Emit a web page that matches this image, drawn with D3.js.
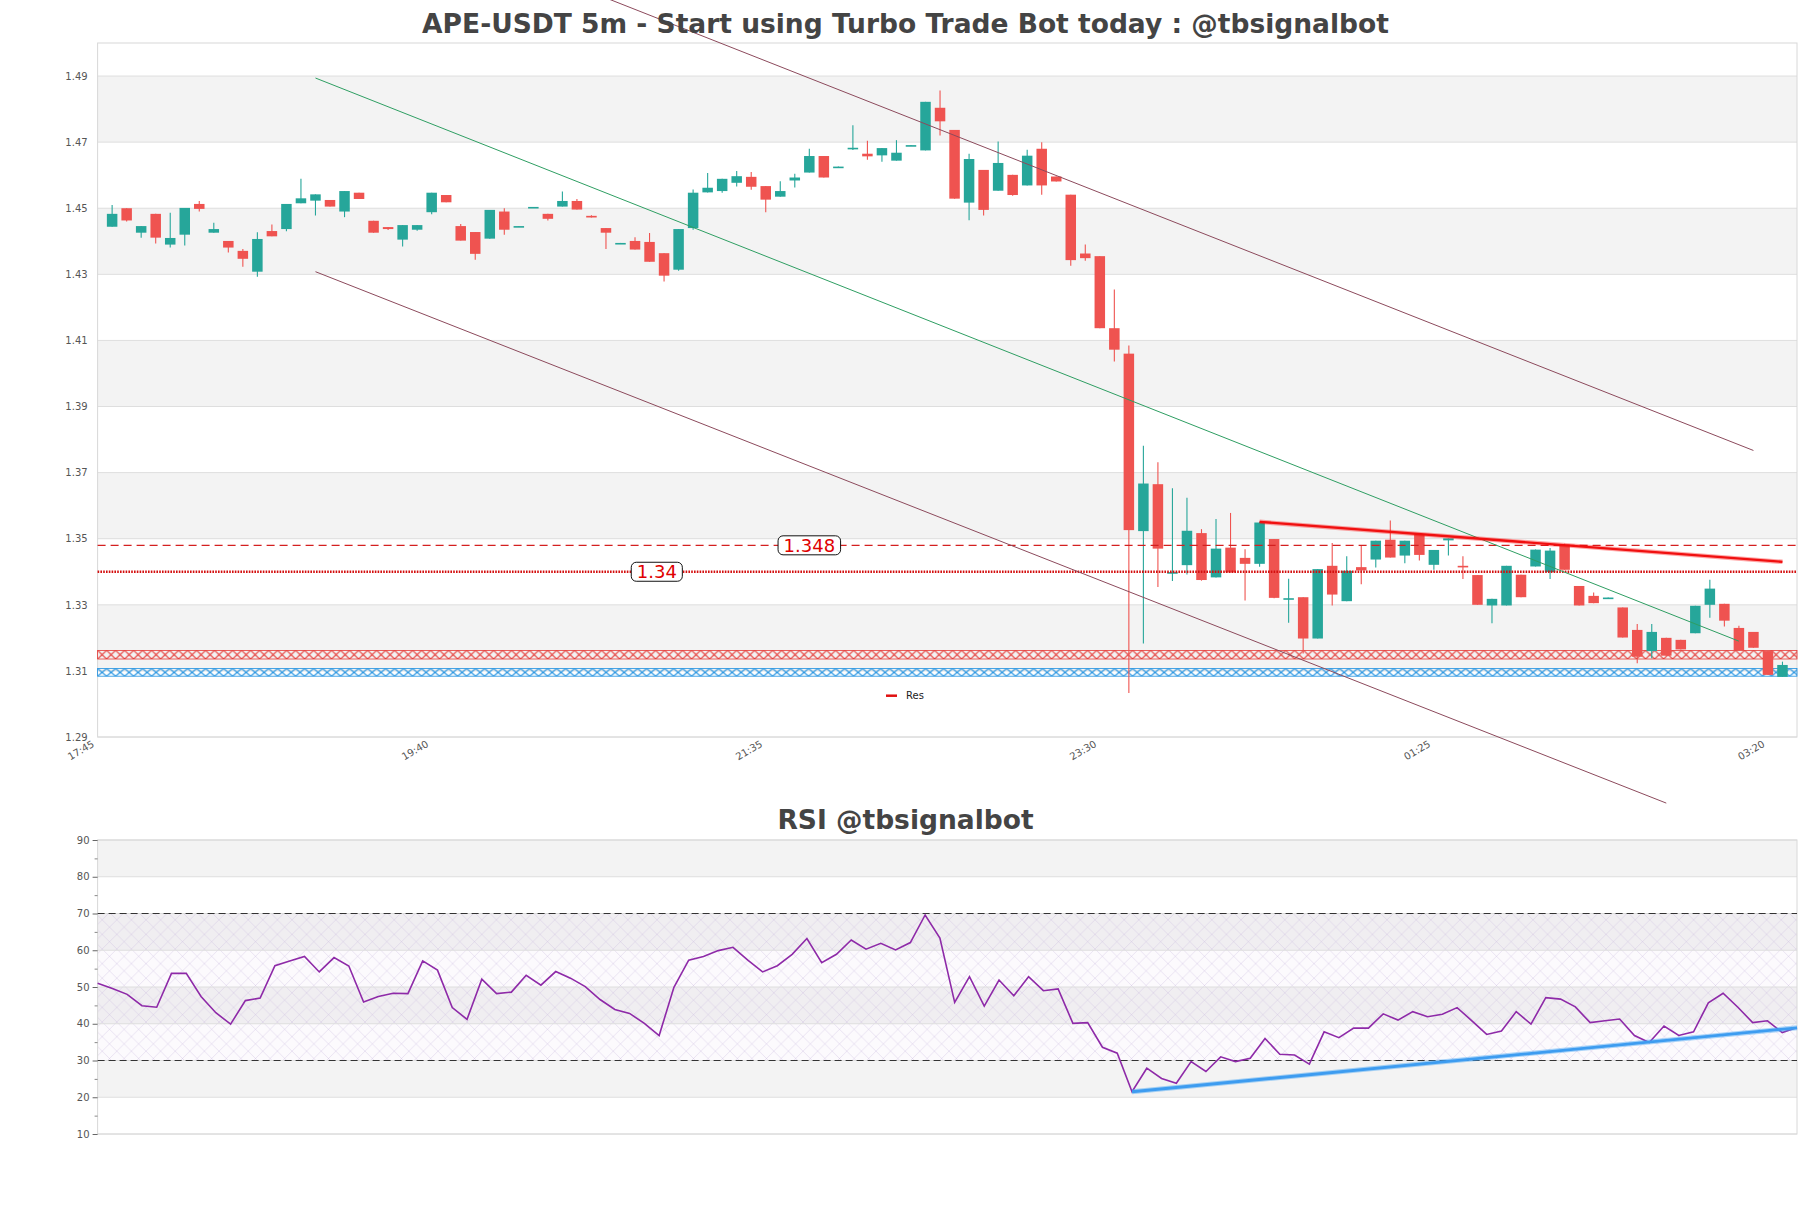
<!DOCTYPE html>
<html><head><meta charset="utf-8">
<script src="https://cdn.jsdelivr.net/npm/d3@7"></script>
<style>
html,body{margin:0;padding:0;background:#fff;}
svg{display:block;font-family:"DejaVu Sans",sans-serif;}
</style></head><body>
<svg id="chart" width="1811" height="1208"></svg>
<script>
// ---------------- DATA ----------------
const times = [
"17:50","17:55",
"18:00","18:05","18:10","18:15","18:20","18:25","18:30","18:35","18:40","18:45","18:50","18:55",
"19:00","19:05","19:10","19:15","19:20","19:25","19:30","19:35","19:40","19:45","19:50","19:55",
"20:00","20:05","20:10","20:15","20:20","20:25","20:30","20:35","20:40","20:45","20:50","20:55",
"21:00","21:05","21:10","21:15","21:20","21:25","21:30","21:35","21:40","21:45","21:50","21:55",
"22:00","22:05","22:10","22:15","22:20","22:25","22:30","22:35","22:40","22:45","22:50","22:55",
"23:00","23:05","23:10","23:15","23:20","23:25","23:30","23:35","23:40","23:45","23:50","23:55",
"00:00","00:05","00:10","00:15","00:20","00:25","00:30","00:35","00:40","00:45","00:50","00:55",
"01:00","01:05","01:10","01:15","01:20","01:25","01:30","01:35","01:40","01:45","01:50","01:55",
"02:00","02:05","02:10","02:15","02:20","02:25","02:30","02:35","02:40","02:45","02:50","02:55",
"03:00","03:05","03:10","03:15","03:20","03:25"];

const open = [
1.4444,1.4500,1.4426,1.4483,1.4390,1.4420,1.4513,1.4426,1.4401,1.4371,
1.4308,1.4431,1.4437,1.4515,1.4523,1.4525,1.4490,1.4547,1.4462,1.4443,
1.4405,1.4435,1.4488,1.4540,1.4446,1.4428,1.4408,1.4490,1.4444,1.4502,
1.4483,1.4505,1.4522,1.4477,1.4440,1.4393,1.4401,1.4398,1.4364,1.4314,
1.4440,1.4548,1.4552,1.4577,1.4595,1.4567,1.4535,1.4584,1.4608,1.4658,
1.4624,1.4680,1.4665,1.4660,1.4644,1.4688,1.4675,1.4804,1.4737,1.4517,
1.4616,1.4553,1.4601,1.4569,1.4680,1.4596,1.4541,1.4363,1.4355,1.4137,
1.4060,1.3523,1.3665,1.3394,1.3420,1.3517,1.3383,1.3473,1.3442,1.3424,
1.3499,1.3316,1.3323,1.3198,1.3418,1.3311,1.3414,1.3437,1.3497,1.3449,
1.3512,1.3421,1.3495,1.3418,1.3390,1.3298,1.3298,1.3391,1.3416,1.3399,
1.3482,1.3357,1.3327,1.3320,1.3292,1.3224,1.3160,1.3200,1.3194,1.3214,
1.3300,1.3303,1.3230,1.3218,1.3160,1.3082];

const high = [
1.4510,1.4500,1.4446,1.4483,1.4486,1.4501,1.4522,1.4456,1.4401,1.4377,
1.4427,1.4451,1.4513,1.4589,1.4542,1.4525,1.4552,1.4547,1.4462,1.4443,
1.4449,1.4449,1.4547,1.4540,1.4452,1.4428,1.4495,1.4500,1.4446,1.4504,
1.4483,1.4551,1.4528,1.4479,1.4440,1.4395,1.4412,1.4425,1.4364,1.4437,
1.4557,1.4607,1.4589,1.4613,1.4610,1.4567,1.4582,1.4604,1.4680,1.4658,
1.4626,1.4751,1.4704,1.4682,1.4706,1.4691,1.4822,1.4856,1.4737,1.4665,
1.4616,1.4702,1.4601,1.4677,1.4700,1.4596,1.4541,1.4390,1.4355,1.4254,
1.4085,1.3781,1.3731,1.3653,1.3624,1.3529,1.3560,1.3578,1.3468,1.3551,
1.3499,1.3379,1.3323,1.3408,1.3487,1.3447,1.3480,1.3494,1.3555,1.3494,
1.3512,1.3466,1.3501,1.3447,1.3390,1.3318,1.3418,1.3391,1.3467,1.3472,
1.3485,1.3357,1.3337,1.3322,1.3292,1.3242,1.3242,1.3200,1.3194,1.3297,
1.3376,1.3303,1.3237,1.3218,1.3160,1.3128];

const low = [
1.4444,1.4460,1.4411,1.4393,1.4381,1.4387,1.4490,1.4426,1.4366,1.4323,
1.4293,1.4415,1.4430,1.4515,1.4478,1.4505,1.4473,1.4528,1.4426,1.4434,
1.4384,1.4432,1.4482,1.4518,1.4402,1.4344,1.4408,1.4420,1.4444,1.4502,
1.4463,1.4505,1.4496,1.4472,1.4377,1.4393,1.4375,1.4338,1.4278,1.4311,
1.4435,1.4548,1.4547,1.4566,1.4556,1.4488,1.4535,1.4563,1.4608,1.4593,
1.4624,1.4676,1.4647,1.4641,1.4644,1.4688,1.4675,1.4720,1.4529,1.4464,
1.4478,1.4553,1.4538,1.4569,1.4541,1.4581,1.4326,1.4341,1.4137,1.4036,
1.3033,1.3183,1.3354,1.3372,1.3392,1.3373,1.3383,1.3398,1.3313,1.3415,
1.3320,1.3246,1.3153,1.3198,1.3298,1.3311,1.3362,1.3413,1.3443,1.3426,
1.3434,1.3406,1.3449,1.3378,1.3300,1.3244,1.3298,1.3323,1.3416,1.3378,
1.3406,1.3298,1.3305,1.3320,1.3201,1.3123,1.3138,1.3146,1.3165,1.3214,
1.3261,1.3234,1.3163,1.3170,1.3088,1.3082];

const close = [
1.4483,1.4463,1.4446,1.4411,1.4410,1.4501,1.4498,1.4437,1.4381,1.4347,
1.4407,1.4415,1.4513,1.4530,1.4542,1.4505,1.4552,1.4528,1.4426,1.4437,
1.4449,1.4449,1.4547,1.4518,1.4402,1.4362,1.4495,1.4435,1.4446,1.4504,
1.4468,1.4522,1.4496,1.4472,1.4426,1.4395,1.4375,1.4338,1.4296,1.4437,
1.4547,1.4562,1.4589,1.4597,1.4565,1.4526,1.4552,1.4593,1.4658,1.4593,
1.4626,1.4683,1.4657,1.4682,1.4668,1.4691,1.4822,1.4763,1.4529,1.4649,
1.4495,1.4637,1.4540,1.4659,1.4569,1.4581,1.4343,1.4349,1.4137,1.4072,
1.3526,1.3667,1.3470,1.3399,1.3524,1.3375,1.3470,1.3398,1.3424,1.3549,
1.3321,1.3320,1.3198,1.3408,1.3331,1.3403,1.3404,1.3494,1.3443,1.3494,
1.3451,1.3466,1.3501,1.3415,1.3300,1.3318,1.3418,1.3323,1.3467,1.3464,
1.3406,1.3298,1.3305,1.3322,1.3201,1.3143,1.3218,1.3146,1.3165,1.3297,
1.3349,1.3252,1.3163,1.3170,1.3088,1.3118];

const rsi = [
51.0,49.6,48.0,44.9,44.5,53.7,53.7,47.4,43.0,39.9,
46.3,47.0,55.8,57.1,58.3,54.1,58.0,55.7,45.9,47.4,
48.3,48.2,57.1,54.6,44.4,41.2,52.1,48.2,48.6,53.2,
50.5,54.2,52.4,50.1,46.6,43.9,42.8,40.1,36.8,49.9,
57.3,58.3,59.9,60.8,57.3,54.1,55.8,58.9,63.2,56.6,
58.9,62.8,60.3,61.9,60.1,62.1,69.6,63.3,45.8,52.8,
44.8,51.9,47.6,52.8,49.0,49.5,40.1,40.3,33.6,32.0,
21.5,27.9,25.1,23.8,29.7,27.0,31.0,29.7,30.6,36.0,
31.7,31.5,29.0,37.8,36.2,38.8,38.8,42.7,41.0,43.3,
41.9,42.6,44.4,40.8,37.1,38.0,43.3,39.9,47.1,46.7,
44.6,40.3,40.8,41.3,36.8,34.9,39.4,36.8,37.8,45.7,
48.3,44.5,40.3,40.8,37.6,39.0];

const priceTicks = [1.29,1.31,1.33,1.35,1.37,1.39,1.41,1.43,1.45,1.47,1.49];
const priceDomain = [1.29, 1.50];
const timeTicks = ["17:45","19:40","21:35","23:30","01:25","03:20"];
const timeDomain = ["17:45","03:30"];
const rsiTicks = [10,20,30,40,50,60,70,80,90];
const rsiMinorTicks = [15,25,35,45,55,65,75,85];
const rsiBounds = [30,70];

const resistanceLevel = 1.348;
const supportLevel = 1.34;
const zoneRed = [1.3136, 1.3162];
const zoneBlue = [1.3084, 1.3107];

// trend lines: [candle index, value]
const trendGreen   = [[14,1.4894],[112,1.3190]];
const channelUpper = [[14,1.5483],[113,1.3767]];
const channelLower = [[14,1.4308],[107,1.2700]];
const resTrend     = [[79,1.3551],[115,1.3430]];
const rsiTrend     = [[70,21.5],[115,38.9]];

const titleMain = "APE-USDT 5m - Start using Turbo Trade Bot today : @tbsignalbot";
const titleRsi = "RSI @tbsignalbot";
const legendLabel = "Res";

// ---------------- DRAW ----------------
const svg = d3.select("#chart");
const M = {left:97.6, right:1797, top:43, bottom:737};
const R = {top:840, bottom:1134};
const UP = "#26a69a", DOWN = "#ef5350";

function toDate(s){const [h,m]=s.split(":").map(Number);return new Date(Date.UTC(2024,0,h<12?2:1,h,m));}
const dates = times.map(toDate);

const x = d3.scaleUtc().domain(timeDomain.map(toDate)).range([M.left, M.right]);
const y = d3.scaleLinear().domain(priceDomain).range([M.bottom, M.top]);
const xr = d3.scaleUtc().domain([dates[0], dates[dates.length-1]]).range([M.left, M.right]);
const yr = d3.scaleLinear().domain([rsiTicks[0], rsiTicks[rsiTicks.length-1]]).range([R.bottom, R.top]);

const defs = svg.append("defs");
function hatch(id, color, h, yTop){
  const p = defs.append("pattern").attr("id",id).attr("patternUnits","userSpaceOnUse")
    .attr("width",9).attr("height",h).attr("x",M.left).attr("y",yTop);
  p.append("path").attr("d",`M0,0L9,${h}M9,0L0,${h}`).attr("stroke",color).attr("stroke-width",1.2).attr("fill","none");
}
const pr = defs.append("pattern").attr("id","rsiHatch").attr("patternUnits","userSpaceOnUse")
  .attr("width",14.6).attr("height",14.6);
pr.append("path").attr("d","M0,0L14.6,14.6M14.6,0L0,14.6").attr("stroke","#c8b6de").attr("stroke-width",0.7).attr("fill","none").attr("opacity",0.5);

// ---- main panel background ----
const gMain = svg.append("g");
for(let i=1;i<priceTicks.length-1;i+=2){
  gMain.append("rect").attr("x",M.left).attr("width",M.right-M.left)
    .attr("y",y(priceTicks[i+1])).attr("height",y(priceTicks[i])-y(priceTicks[i+1]))
    .attr("fill","#f3f3f3");
}
gMain.selectAll("line.grid").data(priceTicks).join("line").attr("class","grid")
  .attr("x1",M.left).attr("x2",M.right).attr("y1",d=>y(d)).attr("y2",d=>y(d))
  .attr("stroke","#dedede").attr("stroke-width",1);
gMain.append("rect").attr("x",M.left).attr("y",M.top).attr("width",M.right-M.left).attr("height",M.bottom-M.top)
  .attr("fill","none").attr("stroke","#d8d8d8");

// axes
const yAxis = d3.axisLeft(y).tickValues(priceTicks).tickFormat(d3.format(".2f")).tickSize(0).tickPadding(10);
const gy = svg.append("g").attr("transform",`translate(${M.left},0)`).call(yAxis);
gy.select(".domain").remove();
gy.selectAll("text").attr("font-size",10).attr("fill","#555").attr("font-family","DejaVu Sans");

const xAxis = d3.axisBottom(x).tickValues(timeTicks.map(toDate)).tickFormat(d3.utcFormat("%H:%M")).tickSize(0);
const gx = svg.append("g").attr("transform",`translate(0,${M.bottom})`).call(xAxis);
gx.select(".domain").remove();
gx.selectAll("text").attr("font-size",10).attr("fill","#555").attr("font-family","DejaVu Sans")
  .attr("text-anchor","end").attr("dy",null).attr("y",null)
  .attr("transform","translate(-3,9) rotate(-30)");

// zones
function zone(rng, color, id){
  const yt = y(rng[1]), yb = y(rng[0]);
  hatch(id, color, yb-yt, yt);
  gMain.append("rect").attr("x",M.left).attr("width",M.right-M.left).attr("y",yt).attr("height",yb-yt)
    .attr("fill",`url(#${id})`).attr("stroke",color).attr("stroke-width",0.8);
}
zone(zoneRed, "#e53935", "hRed");
zone(zoneBlue, "#1e90e0", "hBlue");

// candles
const bw = 10.5;
const gC = svg.append("g");
gC.selectAll("line.wick").data(dates).join("line").attr("class","wick")
  .attr("x1",d=>x(d)).attr("x2",d=>x(d))
  .attr("y1",(d,i)=>y(high[i])).attr("y2",(d,i)=>y(low[i]))
  .attr("stroke",(d,i)=>close[i]>=open[i]?UP:DOWN).attr("stroke-width",1.1);
gC.selectAll("rect.body").data(dates).join("rect").attr("class","body")
  .attr("x",d=>x(d)-bw/2).attr("width",bw)
  .attr("y",(d,i)=>y(Math.max(open[i],close[i])))
  .attr("height",(d,i)=>Math.max(1.6, Math.abs(y(open[i])-y(close[i]))))
  .attr("fill",(d,i)=>close[i]>=open[i]?UP:DOWN);

// horizontal levels
svg.append("line").attr("x1",M.left).attr("x2",M.right).attr("y1",y(resistanceLevel)).attr("y2",y(resistanceLevel))
  .attr("stroke","#d42020").attr("stroke-width",1.3).attr("stroke-dasharray","8,5");
svg.append("line").attr("x1",M.left).attr("x2",M.right).attr("y1",y(supportLevel)).attr("y2",y(supportLevel))
  .attr("stroke","#d41010").attr("stroke-width",2.4).attr("stroke-dasharray","1.6,1.2");

// trend lines
const lineP = d3.line().x(d=>x(dates[d[0]])).y(d=>y(d[1]));
svg.append("path").attr("d",lineP(channelUpper)).attr("stroke","#8c4a5c").attr("stroke-width",1).attr("fill","none");
svg.append("path").attr("d",lineP(channelLower)).attr("stroke","#8c4a5c").attr("stroke-width",1).attr("fill","none");
svg.append("path").attr("d",lineP(trendGreen)).attr("stroke","#2e9e62").attr("stroke-width",1).attr("fill","none");
svg.append("path").attr("d",lineP(resTrend)).attr("stroke","rgba(255,0,0,0.35)").attr("stroke-width",4.5).attr("fill","none");
svg.append("path").attr("d",lineP(resTrend)).attr("stroke","#f01010").attr("stroke-width",2.4).attr("fill","none");

// level labels
function levelLabel(val, xc){
  const g = svg.append("g");
  const t = g.append("text").attr("x",xc).attr("y",y(val)).attr("dy","0.36em").attr("text-anchor","middle")
    .attr("font-size",18).attr("fill","#e00000").text(String(val));
  const w = t.node().getComputedTextLength()+11;
  g.insert("rect","text").attr("x",xc-w/2).attr("y",y(val)-9.5).attr("width",w).attr("height",19)
    .attr("rx",5).attr("fill","#fff").attr("stroke","#111").attr("stroke-width",1);
}
levelLabel(resistanceLevel, x(dates[48]));
levelLabel(supportLevel, (x(dates[37])+x(dates[38]))/2);

// legend
svg.append("line").attr("x1",886).attr("x2",897).attr("y1",695.7).attr("y2",695.7).attr("stroke","#e01010").attr("stroke-width",2.5);
svg.append("text").attr("x",906).attr("y",695.7).attr("dy","0.35em").attr("font-size",10).attr("fill","#222").text(legendLabel);

// ---- RSI panel ----
const gR = svg.append("g");
for(let i=1;i<rsiTicks.length-1;i+=2){
  gR.append("rect").attr("x",M.left).attr("width",M.right-M.left)
    .attr("y",yr(rsiTicks[i+1])).attr("height",yr(rsiTicks[i])-yr(rsiTicks[i+1])).attr("fill","#f3f3f3");
}
gR.append("rect").attr("x",M.left).attr("width",M.right-M.left)
  .attr("y",yr(rsiBounds[1])).attr("height",yr(rsiBounds[0])-yr(rsiBounds[1]))
  .attr("fill","rgba(150,80,190,0.03)");
gR.append("rect").attr("x",M.left).attr("width",M.right-M.left)
  .attr("y",yr(rsiBounds[1])).attr("height",yr(rsiBounds[0])-yr(rsiBounds[1]))
  .attr("fill","url(#rsiHatch)");
gR.selectAll("line.grid").data(rsiTicks).join("line").attr("class","grid")
  .attr("x1",M.left).attr("x2",M.right).attr("y1",d=>yr(d)).attr("y2",d=>yr(d))
  .attr("stroke","#dedede");
gR.append("rect").attr("x",M.left).attr("y",R.top).attr("width",M.right-M.left).attr("height",R.bottom-R.top)
  .attr("fill","none").attr("stroke","#d8d8d8");
rsiBounds.forEach(v=>{
  gR.append("line").attr("x1",M.left).attr("x2",M.right).attr("y1",yr(v)).attr("y2",yr(v))
    .attr("stroke","#333").attr("stroke-width",1.2).attr("stroke-dasharray","7,4");
});
const gyr = svg.append("g").attr("transform",`translate(${M.left},0)`)
  .call(d3.axisLeft(yr).tickValues(rsiTicks).tickSize(5).tickPadding(3));
gyr.select(".domain").remove();
gyr.selectAll("line").attr("stroke","#666");
gyr.selectAll("text").attr("font-size",10).attr("fill","#555").attr("font-family","DejaVu Sans");
const gym = svg.append("g").attr("transform",`translate(${M.left},0)`)
  .call(d3.axisLeft(yr).tickValues(rsiMinorTicks).tickSize(3).tickFormat(""));
gym.select(".domain").remove();
gym.selectAll("line").attr("stroke","#888");

svg.append("path").datum(rsi)
  .attr("d",d3.line().x((d,i)=>xr(dates[i])).y(d=>yr(d)))
  .attr("fill","none").attr("stroke","#8e2aa8").attr("stroke-width",1.6);
const lineR = d3.line().x(d=>xr(dates[d[0]])).y(d=>yr(d[1]));
svg.append("path").attr("d",lineR(rsiTrend)).attr("stroke","rgba(66,165,245,0.45)").attr("stroke-width",5).attr("fill","none");
svg.append("path").attr("d",lineR(rsiTrend)).attr("stroke","#3d9cf0").attr("stroke-width",2.8).attr("fill","none");

// titles
svg.append("text").attr("x",905.5).attr("y",32.7).attr("text-anchor","middle")
  .attr("font-size",26.5).attr("font-weight","bold").attr("fill","#444").text(titleMain);
svg.append("text").attr("x",905.5).attr("y",829).attr("text-anchor","middle")
  .attr("font-size",26.5).attr("font-weight","bold").attr("fill","#444").text(titleRsi);
</script>
</body></html>
